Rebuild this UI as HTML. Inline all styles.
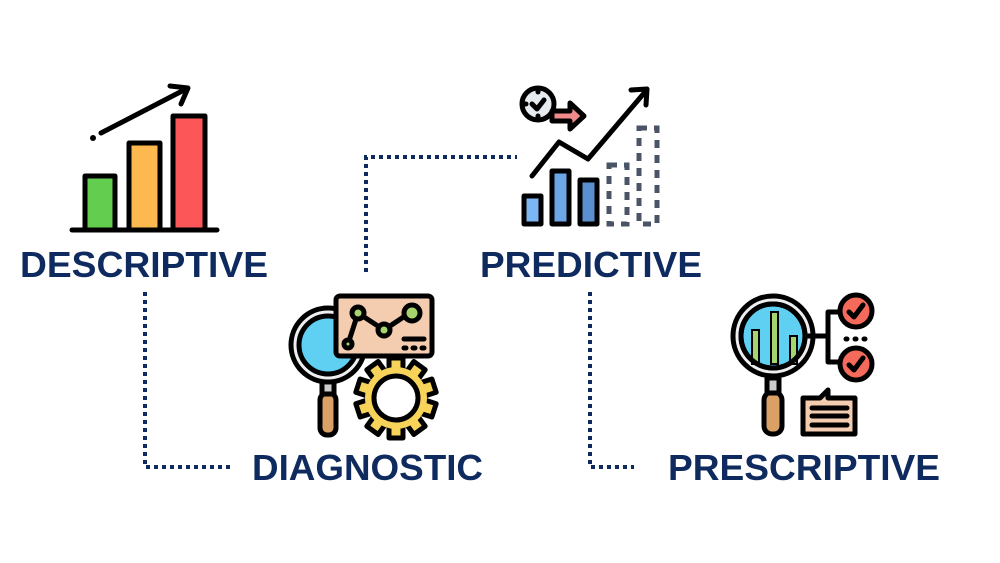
<!DOCTYPE html>
<html><head><meta charset="utf-8"><style>
html,body{margin:0;padding:0;background:#fff;}
svg{display:block;}
text{font-family:"Liberation Sans",Arial,sans-serif;font-weight:bold;fill:#0e2a5e;}
</style></head><body>
<svg width="1000" height="563" viewBox="0 0 1000 563" xmlns="http://www.w3.org/2000/svg">
<rect width="1000" height="563" fill="#fff"/>
<g stroke="#0e2a5e" stroke-width="4" fill="none" stroke-dasharray="4 4">
<path d="M145 292 V467 H232"/>
<path d="M366 272 V157 H517"/>
<path d="M590 292 V467 H634"/>
</g>
<!-- descriptive icon -->
<g stroke="#000" stroke-width="5" stroke-linejoin="round" stroke-linecap="round">
<rect x="85" y="176" width="30" height="54" fill="#62cd4f"/>
<rect x="129" y="143" width="31" height="87" fill="#fdb94f"/>
<rect x="173" y="116" width="32" height="114" fill="#fc5658"/>
<line x1="72" y1="230" x2="217" y2="230"/>
<line x1="101" y1="133" x2="186" y2="89" fill="none"/>
<polyline points="170,86 188,88 181,104" fill="none"/>
</g>
<circle cx="93" cy="138" r="3" fill="#000"/>
<text x="20" y="277" font-size="36" textLength="248" lengthAdjust="spacingAndGlyphs">DESCRIPTIVE</text>
<!-- diagnostic icon -->
<g stroke="#000" stroke-width="5" stroke-linejoin="round" stroke-linecap="round">
<rect x="320" y="393" width="16" height="42" rx="7" fill="#d9a165"/>
<rect x="322" y="378" width="12" height="16" fill="#ccc"/>
<circle cx="328" cy="345" r="37" fill="#eee"/>
<circle cx="328" cy="345" r="29" fill="#5fd0f2"/>
<g transform="translate(396,398)" fill="#f7d35a">
<rect x="-7" y="-40" width="14" height="14" transform="rotate(0)"/>
<rect x="-7" y="-40" width="14" height="14" transform="rotate(36)"/>
<rect x="-7" y="-40" width="14" height="14" transform="rotate(72)"/>
<rect x="-7" y="-40" width="14" height="14" transform="rotate(108)"/>
<rect x="-7" y="-40" width="14" height="14" transform="rotate(144)"/>
<rect x="-7" y="-40" width="14" height="14" transform="rotate(180)"/>
<rect x="-7" y="-40" width="14" height="14" transform="rotate(216)"/>
<rect x="-7" y="-40" width="14" height="14" transform="rotate(252)"/>
<rect x="-7" y="-40" width="14" height="14" transform="rotate(288)"/>
<rect x="-7" y="-40" width="14" height="14" transform="rotate(324)"/>
<circle r="31" stroke="none"/>
<circle r="22" fill="#fff"/>
</g>
<rect x="336" y="296" width="96" height="60" rx="4" fill="#f4cdb0"/>
<polyline points="348,344 358,313 384,330 408,314" fill="none"/>
<circle cx="348" cy="344" r="4" fill="#a6d56e"/>
<circle cx="358" cy="313" r="6" fill="#a6d56e"/>
<circle cx="384" cy="330" r="6" fill="#a6d56e"/>
<circle cx="412" cy="313" r="8" fill="#a6d56e"/>
<line x1="404" y1="339" x2="424" y2="339"/>
<line x1="404" y1="348" x2="406" y2="348"/><line x1="413" y1="348" x2="415" y2="348"/><line x1="422" y1="348" x2="424" y2="348"/>
</g>
<text x="252" y="480" font-size="36" textLength="231" lengthAdjust="spacingAndGlyphs">DIAGNOSTIC</text>
<!-- predictive icon -->
<g stroke="#000" stroke-width="5" stroke-linejoin="round" stroke-linecap="round">
<circle cx="538" cy="104" r="16" fill="#e6ebf0"/>
<line x1="538" y1="90" x2="538" y2="92"/><line x1="538" y1="116" x2="538" y2="118"/><line x1="524" y1="104" x2="526" y2="104"/>
<polygon points="552,111 570,111 570,103 584,116 570,129 570,121 552,121" fill="#f18a8a"/>
<polyline points="532,104 537,109 544,100" fill="none"/>
<polyline points="532,176 559,142 588,159 645,92" fill="none"/>
<polyline points="631,90 647,89 646,105" fill="none"/>
<rect x="524" y="196" width="17" height="28" fill="#7cb7f3"/>
<rect x="552" y="171" width="17" height="53" fill="#6ba6e6"/>
<rect x="580" y="180" width="17" height="44" fill="#5b8fd0"/>
</g>
<g stroke="#4a5466" stroke-width="5" fill="none" stroke-dasharray="8 7">
<rect x="609" y="165" width="18" height="59"/>
<rect x="639" y="128" width="18" height="96"/>
</g>
<text x="480" y="277" font-size="36" textLength="222" lengthAdjust="spacingAndGlyphs">PREDICTIVE</text>
<!-- prescriptive icon -->
<g stroke="#000" stroke-width="5" stroke-linejoin="round" stroke-linecap="round">
<rect x="764" y="392" width="18" height="42" rx="8" fill="#d9a165"/>
<rect x="767" y="378" width="12" height="15" fill="#ccc"/>
<circle cx="773" cy="336" r="40" fill="#eee"/>
<circle cx="773" cy="336" r="32" fill="#5fd0f2"/>
</g>
<g stroke="#000" stroke-width="2" fill="#a6d56e">
<rect x="752" y="330" width="7" height="34"/>
<rect x="771" y="312" width="7" height="52"/>
<rect x="790" y="336" width="7" height="28"/>
</g>
<g stroke="#000" stroke-width="5" stroke-linejoin="round" stroke-linecap="round">
<circle cx="773" cy="336" r="32" fill="none"/>
<polyline points="805,336 828,336" fill="none"/>
<polyline points="840,312 828,312 828,362 840,362" fill="none"/>
<circle cx="856" cy="311" r="16" fill="#f46b5b"/>
<circle cx="856" cy="364" r="16" fill="#f46b5b"/>
<polyline points="849,312 854,317 863,305" fill="none"/>
<polyline points="849,365 854,370 863,358" fill="none"/>
<line x1="846" y1="339" x2="847" y2="339"/><line x1="855" y1="339" x2="856" y2="339"/><line x1="864" y1="339" x2="865" y2="339"/>
<path d="M803 398 H820 L828 390 V398 H855 V434 H803 Z" fill="#f4cdb0"/>
<line x1="812" y1="408" x2="847" y2="408"/><line x1="812" y1="416" x2="847" y2="416"/><line x1="812" y1="425" x2="847" y2="425"/>
</g>
<text x="668" y="480" font-size="36" textLength="272" lengthAdjust="spacingAndGlyphs">PRESCRIPTIVE</text>
</svg>
</body></html>
